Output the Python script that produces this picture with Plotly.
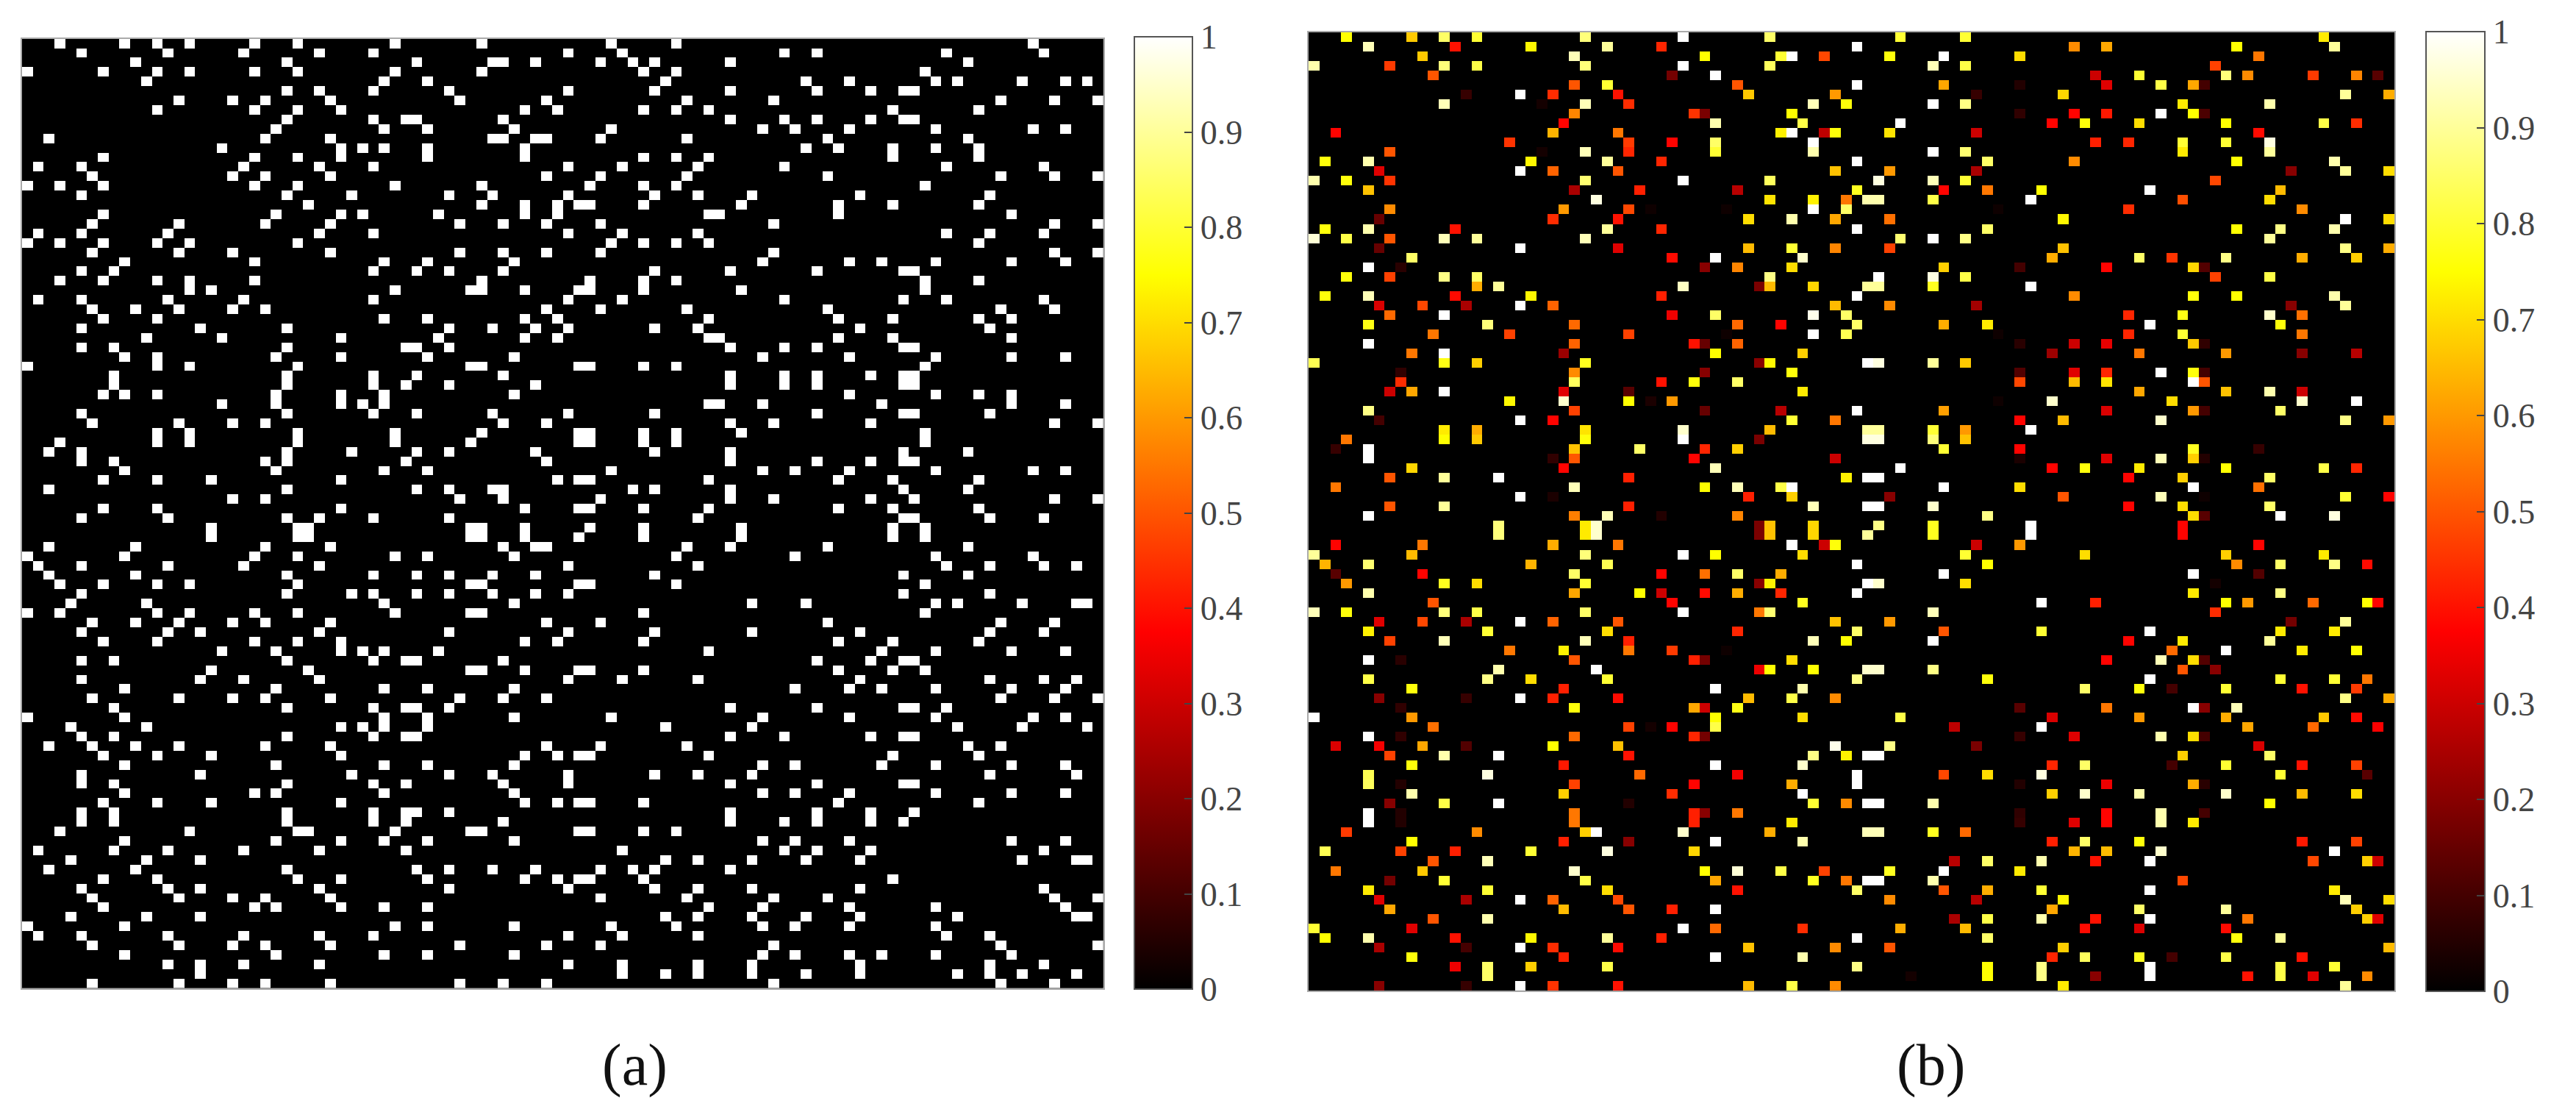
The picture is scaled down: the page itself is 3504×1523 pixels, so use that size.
import numpy as np
import plotly.graph_objects as go

W, H = 3504, 1523
N = 100
TICK_VALS = [0, .1, .2, .3, .4, .5, .6, .7, .8, .9, 1]
TICK_TEXT = ["0", "0.1", "0.2", "0.3", "0.4", "0.5", "0.6", "0.7", "0.8", "0.9", "1"]
HOT = [[0, "#000000"], [.375, "#ff0000"], [.75, "#ffff00"], [1, "#ffffff"]]

# panel (a): columns of the white cells, by row
A_ROWS = [
[3,9,12,15,21,25,34,42,54,60,93],
[5,13,20,27,32,50,55,70,73,85,94],
[10,24,36,43,44,47,53,56,58,65,87],
[0,7,12,15,21,25,34,42,57,60,83],
[11,33,37,59,72,76,84,86,92,96,98],
[24,27,32,39,50,58,65,73,78,81,82],
[14,19,22,28,40,48,61,69,90,95,99],
[12,21,25,29,46,49,57,60,63,80,88],
[24,32,35,36,44,65,70,73,78,81,82],
[23,33,37,45,54,68,71,76,84,93,96],
[2,22,28,43,44,47,48,53,61,74,87],
[18,29,31,33,37,46,72,75,80,84,88],
[7,21,25,29,37,46,57,60,63,80,88],
[1,5,20,27,32,50,55,62,70,85,94],
[6,19,22,28,48,53,61,74,90,95,99],
[0,3,7,21,25,34,42,52,57,60,83],
[5,24,30,39,43,50,58,62,67,77,89],
[26,42,46,49,51,52,57,66,75,80,88],
[7,23,29,31,38,46,49,63,64,75,91],
[6,14,22,28,40,44,48,53,69,95,99],
[1,5,13,27,32,50,55,62,85,89,94],
[0,3,7,12,15,25,54,57,60,63,88],
[6,14,19,28,40,44,48,53,69,95,99],
[9,21,33,37,45,68,76,79,84,91,96],
[5,8,32,36,39,44,58,65,73,81,82],
[3,7,12,15,21,42,52,57,60,83,88],
[15,17,34,41,42,46,51,52,57,66,83],
[1,5,13,20,32,50,55,70,81,85,94],
[6,10,14,19,22,48,53,61,74,90,95],
[7,12,33,37,46,49,63,75,80,88,91],
[5,16,24,39,43,47,50,58,62,77,89],
[11,18,29,38,46,49,63,64,75,80,91],
[5,8,24,35,36,39,65,70,73,81,82],
[9,12,23,29,37,45,68,76,84,91,96],
[0,12,15,25,41,42,51,52,57,60,83],
[8,24,32,36,44,65,70,73,78,81,82],
[8,24,32,35,39,47,65,70,73,81,82],
[7,9,12,23,29,33,45,76,84,88,91],
[18,23,29,31,33,63,64,68,79,91,96],
[5,24,32,36,43,50,58,73,81,82,89],
[6,14,19,22,44,48,65,69,78,95,99],
[12,15,25,34,42,51,52,57,60,66,83],
[3,12,15,25,34,41,51,52,57,60,83],
[2,5,24,30,36,39,47,58,65,81,87],
[5,8,22,24,35,48,65,73,78,81,82],
[9,23,33,37,54,68,71,76,84,93,96],
[7,12,17,29,49,51,52,63,75,80,88],
[2,24,36,39,43,44,56,58,65,81,87],
[19,22,40,44,53,65,69,78,82,95,99],
[7,12,29,46,51,52,57,63,75,80,88],
[5,13,24,27,32,39,62,81,82,89,94],
[17,25,26,41,42,46,52,57,66,80,83],
[17,25,26,41,42,46,51,57,66,80,83],
[2,10,22,28,44,47,48,61,65,74,87],
[0,9,21,25,34,37,45,60,71,84,93],
[1,5,13,20,27,50,62,85,89,94,97],
[2,10,24,32,36,39,43,47,58,81,87],
[3,7,12,15,25,41,42,51,52,60,83],
[5,24,30,32,36,39,43,47,50,81,89],
[4,11,33,45,67,72,84,86,92,97,98],
[0,3,12,15,21,25,34,41,42,57,83],
[6,10,14,19,22,28,48,53,74,90,95],
[5,13,16,27,39,50,58,67,77,89,94],
[7,12,21,25,29,46,49,57,75,80,88],
[18,23,29,31,33,38,63,79,84,91,96],
[5,8,24,32,35,36,44,73,78,81,82],
[17,26,41,42,46,51,52,57,75,80,83],
[5,16,20,27,50,55,62,77,89,94,97],
[9,23,33,37,45,71,76,79,84,91,96],
[6,14,19,22,28,40,44,48,90,95,99],
[8,24,32,35,36,39,65,73,81,82,85],
[0,9,33,37,45,54,68,76,84,93,96],
[4,11,29,31,33,37,59,67,86,92,98],
[5,8,24,32,35,36,65,70,78,81,82],
[2,6,10,14,22,28,48,53,61,87,90],
[7,12,17,29,46,49,51,52,63,80,88],
[9,23,33,37,45,68,71,79,84,91,96],
[5,16,30,39,43,50,58,62,67,89,97],
[5,8,24,32,35,44,50,65,73,81,82],
[9,21,23,33,45,68,71,76,84,91,96],
[7,12,17,29,46,49,51,52,57,75,88],
[5,8,24,32,35,36,39,65,73,78,82],
[5,8,24,32,35,44,65,70,73,78,81],
[3,15,25,26,34,41,42,51,52,57,60],
[9,23,29,33,37,45,68,71,76,91,96],
[1,8,13,20,27,35,55,70,73,78,94],
[4,11,16,59,62,67,72,77,92,97,98],
[2,10,24,36,39,43,47,53,56,58,65],
[7,12,25,29,37,46,49,51,52,57,80],
[5,13,16,27,39,50,58,62,67,77,94],
[6,14,19,22,28,53,61,69,74,95,99],
[7,21,23,29,33,37,63,68,76,84,96],
[4,11,16,59,62,67,72,77,86,97,98],
[0,9,34,37,45,54,60,68,71,76,84],
[1,5,13,20,27,32,50,55,62,85,89],
[6,14,19,22,28,40,48,53,69,90,99],
[9,23,33,37,45,68,71,76,79,84,91],
[13,16,20,27,50,55,62,67,77,89,94],
[16,55,59,62,67,72,77,86,89,92,97],
[6,14,19,22,28,40,44,48,69,90,95],
]

# panel (b): (column, value) of the lit cells, by row
B_ROWS = [
[(3,.75),(9,.67),(12,.85),(15,.8),(25,.87),(34,1),(42,.85),(54,.8),(60,.8),(93,.72)],
[(5,.93),(13,.4),(20,.74),(27,.9),(32,.43),(50,1),(70,.58),(73,.62),(85,.75),(94,.9)],
[(10,.67),(24,.93),(36,.75),(43,.8),(44,1),(47,.48),(53,.76),(58,1),(65,.7),(87,.55)],
[(0,.92),(7,.46),(12,.87),(15,.82),(25,.87),(34,1),(42,.84),(57,.93),(60,.82),(83,.47)],
[(11,.5),(33,.17),(37,1),(72,.3),(76,.8),(84,.87),(86,.58),(92,.46),(96,.57),(98,.13)],
[(24,.5),(27,.8),(39,.5),(50,1),(58,.62),(65,.05),(73,.33),(78,.82),(81,.62),(82,.1)],
[(14,.08),(19,1),(22,.44),(28,.4),(40,.67),(48,.6),(61,.08),(69,.69),(95,.9),(99,.63)],
[(12,.93),(21,.03),(25,.93),(29,.44),(46,.93),(49,.76),(57,1),(60,.88),(80,.72),(88,.92)],
[(24,.57),(35,.45),(36,.18),(44,.75),(65,.07),(70,.38),(73,.41),(78,1),(81,.75),(82,.11)],
[(23,.38),(37,.92),(45,.82),(54,1),(68,.38),(71,.76),(76,.7),(84,.75),(93,.82),(96,.44)],
[(2,.38),(22,.64),(28,.55),(43,.73),(44,1),(47,.28),(48,.76),(53,.71),(61,.3),(87,.39)],
[(18,.45),(29,.46),(33,.38),(37,.85),(46,1),(72,.42),(75,.43),(80,.8),(84,.8),(88,.97)],
[(7,.5),(21,.03),(25,.93),(29,.43),(37,.8),(46,.92),(57,1),(60,.86),(80,.72),(88,.9)],
[(1,.76),(5,.92),(20,.74),(27,.9),(32,.43),(50,1),(62,.85),(70,.58),(85,.75),(94,.92)],
[(6,.33),(19,1),(22,.52),(28,.5),(48,.66),(53,.6),(61,.25),(90,.2),(95,.9),(99,.7)],
[(0,.92),(3,.76),(7,.45),(25,.86),(34,1),(42,.84),(52,.97),(57,.93),(60,.8),(83,.48)],
[(5,.66),(24,.25),(30,.42),(39,.27),(50,.78),(58,.38),(62,.55),(67,.75),(77,1),(89,.65)],
[(26,.97),(42,.71),(46,.73),(49,.55),(51,.92),(52,.92),(57,.82),(66,1),(80,.49),(88,.7)],
[(7,.58),(23,.6),(29,.48),(31,.02),(38,.02),(46,1),(49,.85),(63,.02),(75,.44),(91,.58)],
[(6,.15),(22,.44),(28,.4),(40,.7),(44,.92),(48,.62),(53,.54),(69,.74),(95,1),(99,.7)],
[(1,.76),(5,.92),(13,.4),(27,.9),(32,.43),(50,1),(62,.85),(85,.75),(89,.88),(94,.92)],
[(0,.96),(3,.82),(7,.5),(12,.93),(15,.9),(25,.93),(54,.86),(57,1),(60,.88),(88,.9)],
[(6,.15),(19,1),(28,.33),(40,.65),(44,.8),(48,.57),(53,.47),(69,.66),(95,.88),(99,.63)],
[(9,.85),(33,.39),(37,1),(45,.95),(68,.63),(76,.85),(79,.45),(84,.88),(91,.63),(96,.68)],
[(5,1),(8,.06),(36,.2),(39,.57),(44,.7),(58,.68),(65,.1),(73,.38),(81,.69),(82,.12)],
[(3,.76),(7,.47),(12,.88),(15,.85),(42,.88),(52,1),(57,.97),(60,.82),(83,.47),(88,.82)],
[(15,.63),(17,.9),(34,.94),(41,.18),(42,.65),(46,.69),(51,.9),(52,.9),(57,.78),(66,1)],
[(1,.76),(5,.93),(13,.39),(20,.74),(32,.42),(50,1),(70,.58),(81,.76),(85,.75),(94,.92)],
[(6,.32),(10,.48),(14,.25),(19,1),(22,.52),(48,.65),(53,.58),(61,.24),(90,.2),(95,.9)],
[(7,.53),(12,1),(33,.35),(37,.85),(46,.98),(49,.85),(75,.43),(80,.77),(88,.95),(91,.54)],
[(5,.77),(16,.87),(24,.53),(39,.53),(43,.38),(50,.85),(58,.63),(62,.72),(77,1),(89,.76)],
[(11,.55),(18,.47),(29,.47),(38,.02),(46,1),(49,.83),(63,.02),(75,.43),(80,.8),(91,.55)],
[(5,1),(24,.52),(35,.4),(36,.15),(39,.52),(65,.06),(70,.3),(73,.34),(81,.67),(82,.07)],
[(9,.55),(12,1),(23,.23),(37,.75),(45,.68),(68,.23),(76,.55),(84,.6),(91,.2),(96,.27)],
[(0,.83),(12,.77),(15,.68),(25,.78),(41,.2),(42,.74),(51,1),(52,.97),(57,.9),(60,.67)],
[(8,.07),(24,.58),(36,.2),(44,.76),(65,.12),(70,.33),(73,.43),(78,1),(81,.76),(82,.1)],
[(8,.44),(24,.84),(32,.4),(35,.76),(39,.85),(65,.48),(70,.65),(73,.71),(81,1),(82,.5)],
[(7,.3),(9,.62),(12,1),(23,.33),(29,.13),(45,.72),(76,.62),(84,.66),(88,.92),(91,.3)],
[(18,.74),(23,.95),(29,.75),(31,.04),(33,.6),(63,.02),(68,.95),(79,.7),(91,.95),(96,1)],
[(5,.88),(24,.47),(36,.15),(43,.27),(50,1),(58,.61),(73,.32),(81,.6),(82,.1),(89,.85)],
[(6,.1),(19,1),(22,.38),(44,.8),(48,.55),(65,.38),(69,.65),(78,.95),(95,.88),(99,.6)],
[(12,.72),(15,.63),(25,.71),(34,.95),(42,.65),(51,.9),(52,.9),(57,.8),(60,.6),(66,1)],
[(3,.55),(12,.75),(15,.67),(25,.76),(34,1),(41,.18),(51,.97),(52,.97),(57,.87),(60,.66)],
[(2,.08),(5,1),(24,.66),(30,.85),(36,.43),(39,.68),(58,.8),(65,.38),(81,.78),(87,.08)],
[(5,1),(22,.07),(24,.5),(35,.38),(48,.3),(65,.04),(73,.33),(78,.93),(81,.68),(82,.05)],
[(9,.69),(23,.38),(37,.93),(54,1),(68,.38),(71,.76),(76,.72),(84,.75),(93,.82),(96,.43)],
[(7,.5),(12,.9),(17,1),(29,.42),(49,.73),(51,1),(52,1),(75,.38),(80,.68),(88,.85)],
[(2,.55),(24,.93),(36,.75),(39,.93),(43,.82),(44,1),(58,1),(65,.7),(81,1),(87,.54)],
[(19,1),(22,.04),(40,.42),(44,.68),(53,.2),(69,.5),(78,.93),(82,.02),(95,.8),(99,.38)],
[(7,.5),(12,.9),(29,.42),(46,.93),(51,1),(52,1),(57,.95),(75,.38),(80,.7),(88,.85)],
[(5,1),(24,.56),(27,.93),(32,.05),(39,.57),(62,.88),(81,.7),(82,.13),(89,1),(94,.97)],
[(17,.87),(25,.72),(26,.95),(41,.18),(42,.66),(46,.69),(52,.88),(57,.78),(66,1),(80,.38)],
[(17,.87),(25,.72),(26,.95),(41,.18),(42,.66),(46,.69),(51,.9),(57,.78),(66,1),(80,.38)],
[(2,.38),(10,.55),(22,.63),(28,.55),(44,1),(47,.3),(48,.76),(61,.3),(65,.6),(87,.38)],
[(0,.9),(9,.65),(25,.87),(34,1),(37,.75),(45,.7),(60,.8),(71,.7),(84,.68),(93,.72)],
[(1,.64),(5,.86),(20,.64),(27,.83),(50,1),(62,.75),(85,.58),(89,.85),(94,.88),(97,.39)],
[(2,.13),(10,.38),(24,.85),(32,.38),(36,.54),(39,.85),(43,.63),(58,1),(81,1),(87,.12)],
[(3,.6),(12,.78),(15,.7),(25,.8),(41,.2),(42,.73),(51,1),(52,.95),(60,.7),(83,.03)],
[(5,.92),(24,.62),(30,.75),(32,.3),(36,.39),(39,.63),(43,.43),(50,1),(81,.72),(89,.88)],
[(11,.5),(33,.38),(45,.78),(67,1),(72,.42),(84,.75),(86,.6),(92,.53),(97,.75),(98,.38)],
[(0,.93),(3,.76),(12,.87),(15,.82),(25,.85),(34,1),(41,.55),(42,.86),(57,.93),(83,.44)],
[(6,.33),(10,.48),(14,.25),(19,1),(22,.52),(28,.5),(48,.66),(53,.6),(90,.17),(95,.9)],
[(5,.73),(16,.8),(27,.7),(39,.43),(50,.85),(58,.5),(67,.8),(77,1),(89,.72),(94,.72)],
[(7,.47),(12,.93),(25,.93),(29,.42),(46,.93),(49,.75),(57,1),(75,.38),(80,.72),(88,.9)],
[(18,.55),(23,.73),(29,.55),(33,.46),(38,.02),(79,.53),(84,1),(91,.72),(96,.75)],
[(5,1),(8,.06),(24,.5),(35,.42),(36,.17),(44,.7),(73,.38),(78,.93),(81,.7),(82,.12)],
[(17,.92),(26,1),(41,.35),(42,.75),(46,.75),(51,.95),(52,.95),(57,.88),(80,.5),(83,.2)],
[(5,.82),(16,.88),(20,.7),(27,.8),(50,.88),(62,.76),(77,1),(89,.8),(94,.8),(97,.55)],
[(9,.76),(23,.42),(37,1),(45,.92),(71,.85),(76,.76),(79,.1),(84,.8),(91,.4),(96,.46)],
[(6,.2),(14,.08),(19,1),(22,.42),(28,.39),(40,.65),(44,.82),(48,.58),(95,.88),(99,.63)],
[(8,.07),(24,.76),(35,.62),(36,.3),(39,.77),(65,.13),(73,.55),(81,1),(82,.2),(85,.93)],
[(0,1),(9,.6),(37,.75),(45,.7),(54,.82),(68,.32),(76,.6),(84,.63),(93,.67),(96,.39)],
[(11,.54),(29,.47),(31,.03),(33,.38),(37,.82),(59,.28),(67,1),(86,.62),(92,.53),(98,.37)],
[(5,1),(8,.07),(24,.53),(35,.43),(36,.17),(65,.08),(70,.33),(78,.92),(81,.7),(82,.1)],
[(2,.32),(6,.36),(10,.62),(14,.12),(22,.75),(28,.66),(48,.98),(53,.88),(61,.18),(87,.32)],
[(7,.47),(12,.92),(17,1),(29,.4),(46,.88),(49,.73),(51,1),(52,1),(80,.68),(88,.85)],
[(9,.76),(23,.41),(37,1),(45,.95),(68,.43),(71,.85),(79,.1),(84,.8),(91,.4),(96,.47)],
[(5,.83),(16,.97),(30,.53),(39,.36),(50,1),(58,.48),(62,.7),(67,.97),(89,.8),(97,.13)],
[(5,.84),(8,.05),(24,.47),(35,.38),(44,.63),(50,1),(65,.05),(73,.35),(81,.63),(82,.06)],
[(9,.92),(23,.68),(33,.44),(45,1),(68,.68),(71,.95),(76,.92),(84,.95),(91,.65),(96,.7)],
[(7,.2),(12,.82),(17,1),(29,.05),(46,.8),(49,.58),(51,1),(52,1),(57,.92),(88,.75)],
[(5,1),(8,.05),(24,.55),(35,.42),(36,.2),(39,.55),(65,.07),(73,.38),(78,.92),(82,.1)],
[(5,1),(8,.05),(24,.55),(35,.42),(44,.72),(65,.08),(70,.33),(73,.38),(78,.92),(81,.72)],
[(3,.46),(15,.58),(25,.68),(26,1),(34,.95),(42,.63),(51,.93),(52,.93),(57,.78),(60,.53)],
[(9,.75),(23,.42),(29,.2),(37,1),(45,.92),(68,.42),(71,.85),(76,.76),(91,.41),(96,.47)],
[(1,.83),(8,.47),(13,.42),(20,.8),(27,.97),(35,.69),(70,.64),(73,.65),(78,.95),(94,1)],
[(11,.5),(16,.93),(59,.27),(62,.85),(67,.92),(72,.4),(77,1),(92,.48),(97,.68),(98,.3)],
[(2,.55),(10,.67),(24,.95),(36,.75),(39,.96),(43,.82),(47,.47),(53,.78),(58,1),(65,.72)],
[(7,.17),(12,.8),(25,.82),(37,.62),(46,.78),(49,.55),(51,1),(52,1),(57,.92),(80,.48)],
[(5,.72),(16,.8),(27,.7),(39,.4),(50,.85),(58,.5),(62,.63),(67,.8),(77,1),(94,.72)],
[(6,.33),(14,.25),(19,1),(22,.52),(28,.48),(53,.58),(61,.27),(69,.74),(95,.93),(99,.7)],
[(7,.62),(23,.65),(29,.5),(33,.42),(37,1),(68,.62),(76,.85),(84,.9),(96,.68)],
[(11,.5),(16,.92),(59,.25),(62,.82),(67,.92),(72,.4),(77,1),(86,.55),(97,.68),(98,.33)],
[(0,.8),(9,.33),(34,1),(37,.53),(45,.44),(54,.63),(60,.65),(71,.39),(76,.32),(84,.39)],
[(1,.75),(5,.92),(13,.4),(20,.74),(27,.9),(32,.42),(50,1),(62,.85),(85,.76),(89,.9)],
[(6,.25),(14,.1),(19,1),(22,.44),(28,.39),(40,.66),(48,.58),(53,.5),(69,.68),(99,.65)],
[(9,.76),(23,.42),(37,1),(45,.92),(68,.43),(71,.84),(76,.78),(79,.1),(84,.82),(91,.4)],
[(13,.35),(16,.85),(20,.68),(27,.82),(50,.88),(62,.75),(67,.88),(77,1),(89,.82),(94,.8)],
[(16,.85),(55,.03),(62,.75),(67,.88),(72,.2),(77,1),(86,.4),(89,.82),(92,.33),(97,.58)],
[(6,.2),(14,.08),(19,1),(22,.45),(28,.4),(40,.65),(44,.82),(48,.58),(69,.72),(95,.9)],
]

za = np.zeros((N, N))
for r, cols in enumerate(A_ROWS):
    for c in cols:
        za[r, c] = 1.0
zb = np.zeros((N, N))
for r, cells in enumerate(B_ROWS):
    for c, v in cells:
        zb[r, c] = v


def dom_x(a, b):
    return [a / W, b / W]


def dom_y(top, bottom):
    return [1 - bottom / H, 1 - top / H]


def cbar(x0, x1, top, bottom):
    return dict(
        x=x0 / W, xanchor="left", xref="paper", xpad=0,
        y=1 - top / H, yanchor="top", yref="paper", ypad=0,
        thickness=x1 - x0, thicknessmode="pixels",
        len=bottom - top, lenmode="pixels",
        outlinecolor="#555555", outlinewidth=2,
        ticks="inside", ticklen=12, tickwidth=2, tickcolor="#444444",
        tickvals=TICK_VALS, ticktext=TICK_TEXT,
        tickfont=dict(family="Liberation Serif", size=46, color="#444444"),
    )


fig = go.Figure()
fig.add_trace(go.Heatmap(z=za, zmin=0, zmax=1, colorscale=HOT, xaxis="x", yaxis="y",
                         colorbar=cbar(1543, 1622, 50, 1345)))
fig.add_trace(go.Heatmap(z=zb, zmin=0, zmax=1, colorscale=HOT, xaxis="x2", yaxis="y2",
                         colorbar=cbar(3300, 3380, 43, 1348)))

ax = dict(showgrid=False, zeroline=False, showticklabels=False, ticks="",
          showline=True, mirror=True, linecolor="#aaaaaa", linewidth=2)
label_font = dict(family="Liberation Serif", size=80, color="#111111")
fig.update_layout(
    width=W, height=H, margin=dict(l=0, r=0, t=0, b=0),
    paper_bgcolor="white", plot_bgcolor="black",
    xaxis=dict(domain=dom_x(30, 1500.6), range=[-.5, N - .5], **ax),
    yaxis=dict(domain=dom_y(52.6, 1343.6), range=[N - .5, -.5], **ax),
    xaxis2=dict(domain=dom_x(1780, 3257), range=[-.5, N - .5], anchor="y2", **ax),
    yaxis2=dict(domain=dom_y(43.9, 1347), range=[N - .5, -.5], anchor="x2", **ax),
    annotations=[
        dict(text="(a)", x=863 / W, y=1 - 1448 / H, xref="paper", yref="paper",
             xanchor="center", yanchor="middle", showarrow=False, font=label_font),
        dict(text="(b)", x=2626 / W, y=1 - 1448 / H, xref="paper", yref="paper",
             xanchor="center", yanchor="middle", showarrow=False, font=label_font),
    ],
)
fig.write_html("out.html", config={"displayModeBar": False},
               post_script="document.body.style.margin='0';document.body.style.overflow='hidden';")
